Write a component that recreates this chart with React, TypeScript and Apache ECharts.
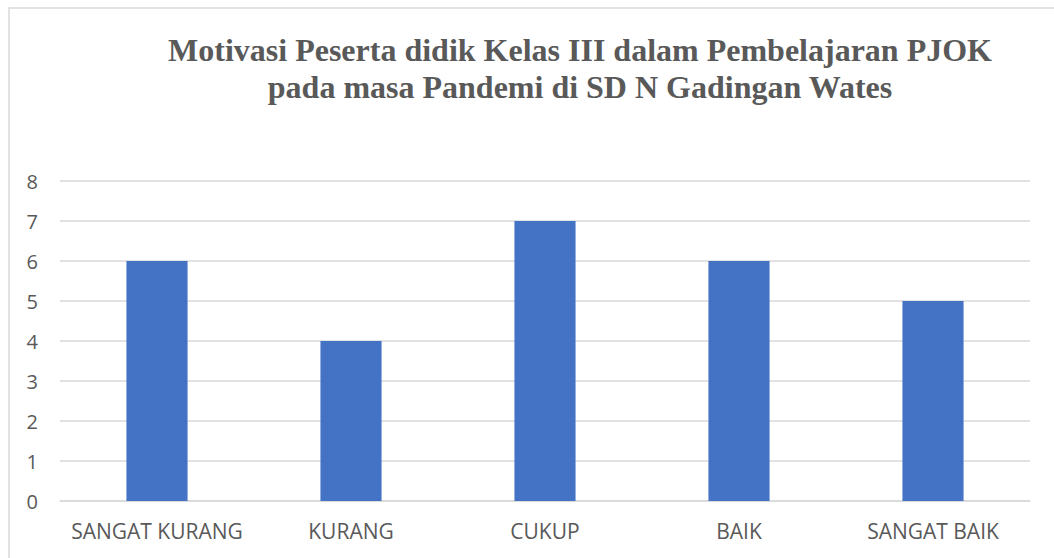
import React, { useEffect, useRef } from "react";
import * as echarts from "echarts";

const titleLines = [
  "Motivasi Peserta didik Kelas III dalam Pembelajaran PJOK",
  "pada masa Pandemi di SD N Gadingan Wates",
];
const categories = ["SANGAT KURANG", "KURANG", "CUKUP", "BAIK", "SANGAT BAIK"];
const values = [6, 4, 7, 6, 5];
const yTicks = { min: 0, max: 8, interval: 1 };

export default function App() {
  const ref = useRef<HTMLDivElement>(null);
  useEffect(() => {
    if (!ref.current) return;
    const chart = echarts.init(ref.current, undefined, { renderer: "svg" });
    chart.setOption({
      animation: false,
      backgroundColor: "#ffffff",
      title: {
        text: titleLines.join("\n"),
        left: 575,
        textAlign: "center",
        top: 26,
        textStyle: {
          fontFamily: "Liberation Serif, Times New Roman, serif",
          fontWeight: "bold",
          fontSize: 32,
          lineHeight: 37,
          color: "#595959",
        },
      },
      graphic: [
        {
          type: "rect",
          shape: { x: 9, y: 8, width: 1060, height: 600 },
          style: { fill: "none", stroke: "#d9d9d9", lineWidth: 1.5 },
          silent: true,
          z: -1,
        },
      ],
      grid: { left: 60, right: 24, top: 181, bottom: 57, containLabel: false },
      xAxis: {
        type: "category",
        data: categories,
        axisLine: { show: true, lineStyle: { color: "#d9d9d9", width: 1.5 } },
        axisTick: { show: false },
        axisLabel: {
          interval: 0,
          color: "#595959",
          fontFamily: "Open Sans, Noto Sans, sans-serif",
          fontSize: 21,
          margin: 19,
        },
      },
      yAxis: {
        type: "value",
        min: yTicks.min,
        max: yTicks.max,
        interval: yTicks.interval,
        axisLine: { show: false },
        axisTick: { show: false },
        splitLine: { lineStyle: { color: "#d9d9d9", width: 1.5 } },
        axisLabel: {
          color: "#595959",
          fontFamily: "Open Sans, Noto Sans, sans-serif",
          fontSize: 20,
          margin: 22,
        },
      },
      series: [
        {
          type: "bar",
          data: values,
          barWidth: "31.5%",
          itemStyle: { color: "#4472C4" },
        },
      ],
    });
    return () => chart.dispose();
  }, []);
  return (
    <div
      ref={ref}
      style={{ position: "absolute", left: 0, top: 0, width: 1054, height: 558 }}
    />
  );
}
